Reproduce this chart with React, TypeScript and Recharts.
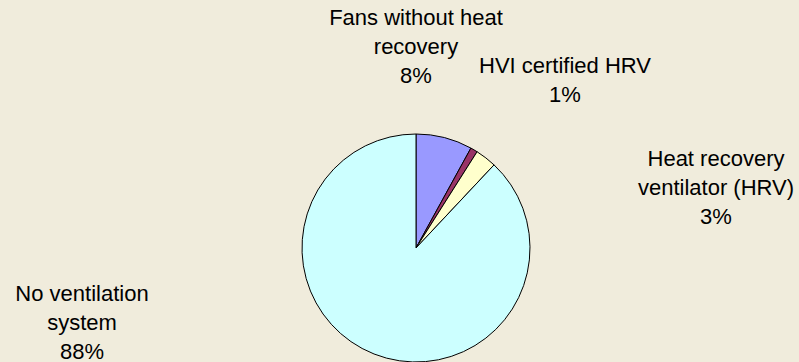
import { PieChart, Pie, Cell } from 'recharts'

// share of homes by ventilation type (percent)
const categories = [
  'Fans without heat recovery',
  'HVI certified HRV',
  'Heat recovery ventilator (HRV)',
  'No ventilation system',
]
const values = [8, 1, 3, 88]

// how each category name wraps in the label
const labelLines = [
  ['Fans without heat', 'recovery'],
  ['HVI certified HRV'],
  ['Heat recovery', 'ventilator (HRV)'],
  ['No ventilation', 'system'],
]

const colors = ['#9999FF', '#993366', '#FFFFCC', '#CCFFFF']

// label block centre, relative to the pie centre
const labelOffsets = [
  { dx: 0, dy: -202 },
  { dx: 149, dy: -169 },
  { dx: 300, dy: -61 },
  { dx: -334, dy: 74 },
]

const LINE_H = 29
const FONT = 22

const data = categories.map((name, i) => ({ name, value: values[i], lines: labelLines[i] }))
const total = values.reduce((a, b) => a + b, 0)

function renderLabel(props: any) {
  const { cx, cy, index, value } = props
  const off = labelOffsets[index]
  const lines = [...labelLines[index], `${Math.round((value / total) * 100)}%`]
  const x = cx + off.dx
  const top = cy + off.dy - ((lines.length - 1) * LINE_H) / 2
  return (
    <text
      x={x}
      y={top}
      textAnchor="middle"
      dominantBaseline="central"
      fill="#000"
      fontSize={FONT}
      fontFamily="Liberation Sans, Arial, sans-serif"
    >
      {lines.map((l, i) => (
        <tspan key={i} x={x} y={top + i * LINE_H}>
          {l}
        </tspan>
      ))}
    </text>
  )
}

export default function App() {
  return (
    <div style={{ position: 'fixed', left: 0, top: 0, width: 799, height: 362, background: '#F0ECDC', overflow: 'hidden' }}>
      <PieChart width={799} height={362} margin={{ top: 0, right: 0, bottom: 0, left: 0 }}>
        <Pie
          data={data}
          dataKey="value"
          nameKey="name"
          cx={416}
          cy={248}
          outerRadius={114}
          startAngle={90}
          endAngle={-270}
          stroke="#000"
          strokeWidth={1}
          label={renderLabel}
          labelLine={false}
          isAnimationActive={false}
        >
          {data.map((d, i) => (
            <Cell key={d.name} fill={colors[i]} />
          ))}
        </Pie>
      </PieChart>
    </div>
  )
}
